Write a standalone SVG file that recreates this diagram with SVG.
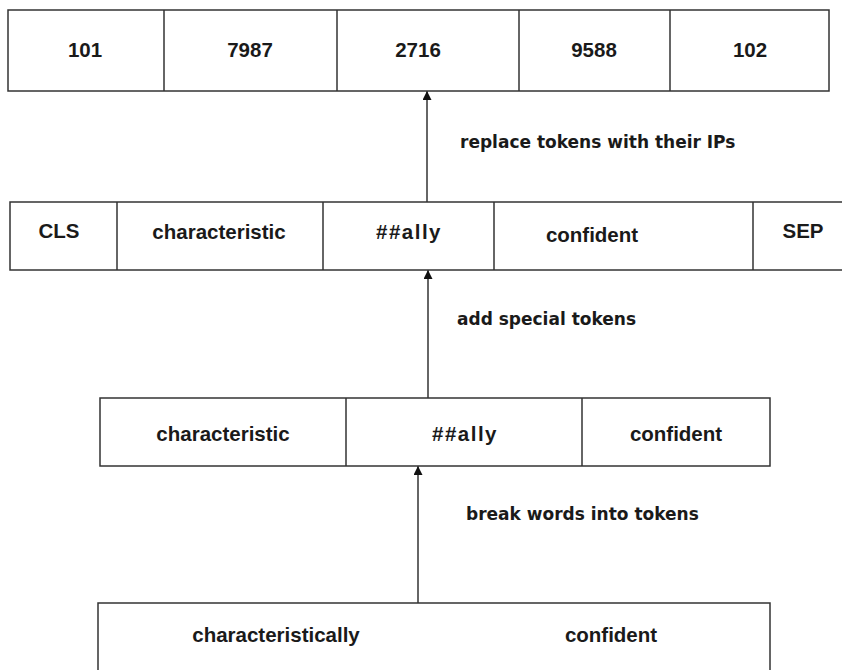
<svg xmlns="http://www.w3.org/2000/svg" width="842" height="670" viewBox="0 0 842 670">
  <style>
    .box { fill: #ffffff; stroke: #333333; stroke-width: 1.5; }
    .div { stroke: #333333; stroke-width: 1.5; }
    .cell { font-family: "Liberation Sans", Arial, sans-serif; font-weight: bold; font-size: 20.5px; fill: #1a1a1a; text-anchor: middle; }
    .wide { letter-spacing: 1.5px; }
    .label { font-family: "DejaVu Sans", "Liberation Sans", sans-serif; font-weight: bold; font-size: 17px; fill: #1a1a1a; }
    .conn { stroke: #333333; stroke-width: 1.5; fill: none; }
  </style>
  <defs>
    <marker id="arrow" viewBox="0 0 10 10" refX="10" refY="5" markerWidth="9" markerHeight="9" orient="auto" markerUnits="userSpaceOnUse">
      <path d="M0,0 L10,5 L0,10 z" fill="#111111"/>
    </marker>
  </defs>
  <rect width="842" height="670" fill="#ffffff"/>

  <!-- connectors -->
  <g id="connectors">
    <line class="conn" x1="427" y1="202" x2="427" y2="91" marker-end="url(#arrow)"/>
    <line class="conn" x1="428" y1="398" x2="428" y2="270" marker-end="url(#arrow)"/>
    <line class="conn" x1="418" y1="603" x2="418" y2="466" marker-end="url(#arrow)"/>
  </g>

  <!-- token ids -->
  <g id="ids">
    <rect class="box" x="8" y="10" width="821" height="81"/>
    <line class="div" x1="164" y1="10" x2="164" y2="91"/>
    <line class="div" x1="337" y1="10" x2="337" y2="91"/>
    <line class="div" x1="519" y1="10" x2="519" y2="91"/>
    <line class="div" x1="670" y1="10" x2="670" y2="91"/>
    <text class="cell" x="85" y="57">101</text>
    <text class="cell" x="250" y="57">7987</text>
    <text class="cell" x="418" y="57">2716</text>
    <text class="cell" x="594" y="57">9588</text>
    <text class="cell" x="750" y="57">102</text>
  </g>
  <text id="label-ids" class="label" x="460" y="148">replace tokens with their IPs</text>

  <!-- tokens with special tokens -->
  <g id="special">
    <rect class="box" x="10" y="202" width="840" height="68"/>
    <line class="div" x1="117" y1="202" x2="117" y2="270"/>
    <line class="div" x1="323" y1="202" x2="323" y2="270"/>
    <line class="div" x1="494" y1="202" x2="494" y2="270"/>
    <line class="div" x1="753" y1="202" x2="753" y2="270"/>
    <text class="cell" x="59" y="238">CLS</text>
    <text class="cell" x="219" y="239">characteristic</text>
    <text class="cell wide" x="409" y="239">##ally</text>
    <text class="cell" x="592" y="242">confident</text>
    <text class="cell" x="803" y="238">SEP</text>
  </g>
  <text id="label-special" class="label" x="457" y="325">add special tokens</text>

  <!-- word pieces -->
  <g id="tokens">
    <rect class="box" x="100" y="398" width="670" height="68"/>
    <line class="div" x1="346" y1="398" x2="346" y2="466"/>
    <line class="div" x1="582" y1="398" x2="582" y2="466"/>
    <text class="cell" x="223" y="441">characteristic</text>
    <text class="cell wide" x="465" y="441">##ally</text>
    <text class="cell" x="676" y="441">confident</text>
  </g>
  <text id="label-tokens" class="label" x="466" y="520">break words into tokens</text>

  <!-- input words -->
  <g id="words">
    <rect class="box" x="98" y="603" width="672" height="80"/>
    <text class="cell" x="276" y="642">characteristically</text>
    <text class="cell" x="611" y="642">confident</text>
  </g>
</svg>
